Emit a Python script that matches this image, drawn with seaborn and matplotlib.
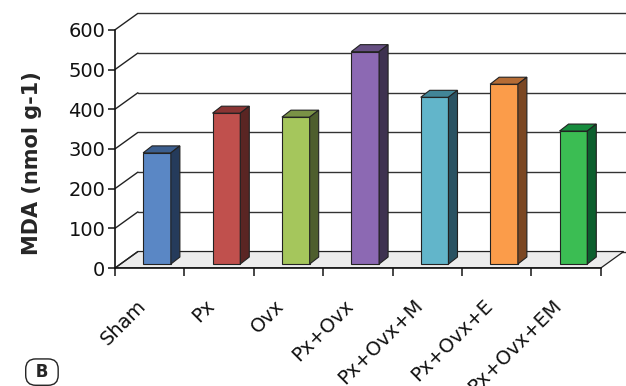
import matplotlib
matplotlib.use("Agg")
import matplotlib.pyplot as plt
from matplotlib.patches import Polygon
from matplotlib.transforms import ScaledTranslation
import seaborn as sns
import pandas as pd

groups = ["Sham", "Px", "Ovx", "Px+Ovx", "Px+Ovx+M", "Px+Ovx+E", "Px+Ovx+EM"]
mda = [280, 380, 370, 535, 420, 453, 335]
y_ticks = [0, 100, 200, 300, 400, 500, 600]

front_colors = ["#5a87c5", "#c0504d", "#a5c65c", "#8c69b3", "#62b5ca", "#fb9c4a", "#3bbd53"]
top_colors = ["#3c5f8f", "#8a3534", "#7a9246", "#664f82", "#428597", "#b56c35", "#178c3e"]
side_colors = ["#253b5b", "#5a2523", "#4e5e2d", "#3e3150", "#2a5262", "#7b4723", "#0c5f2e"]


def main():
    df = pd.DataFrame({"group": groups, "mda": mda})

    sns.set_style("white")
    fig = plt.figure(figsize=(6.26, 3.86), dpi=100)
    ax = fig.add_axes([115 / 626, 118 / 386, 511 / 626, 263 / 386])

    # 3D look: offsets of the back wall and of the bar depth (data units)
    wall_dx, wall_dy = 0.33, 41.5
    bar_dx, bar_dy = 0.13, 17.6
    shift_x, shift_y = 0.105, 10

    sns.barplot(data=df, x="group", y="mda", hue="group", palette=front_colors,
                width=0.4, legend=False, ax=ax, edgecolor="#222222", linewidth=0.8,
                saturation=1, zorder=3)

    n = len(groups)
    ax.set_xlim(-0.5, 6.863)
    ax.set_ylim(0, 662.5)

    # floor
    floor = Polygon([(-0.5, 0), (n - 0.5, 0), (n - 0.5 + wall_dx, wall_dy), (-0.5 + wall_dx, wall_dy)],
                    closed=True, facecolor="#ececec", edgecolor="#222222", linewidth=0.9, zorder=0.5)
    ax.add_patch(floor)

    # back wall gridlines + diagonals from the front axis
    for v in y_ticks:
        ax.plot([-0.5 + wall_dx, n + 1], [v + wall_dy, v + wall_dy], color="#333333", lw=1, zorder=0.4)
        ax.plot([-0.5, -0.5 + wall_dx], [v, v + wall_dy], color="#222222", lw=1, zorder=0.6)

    # move front faces back a little and add top/side faces
    for i, p in enumerate(ax.patches[:n]):
        p.set_x(p.get_x() + shift_x)
        p.set_y(p.get_y() + shift_y)
        x0 = p.get_x()
        x1 = x0 + p.get_width()
        base = p.get_y()
        top = base + p.get_height()
        ax.add_patch(Polygon([(x0, top), (x1, top), (x1 + bar_dx, top + bar_dy), (x0 + bar_dx, top + bar_dy)],
                             closed=True, facecolor=top_colors[i], edgecolor="#222222", lw=0.8, zorder=3))
        ax.add_patch(Polygon([(x1, base), (x1 + bar_dx, base + bar_dy), (x1 + bar_dx, top + bar_dy), (x1, top)],
                             closed=True, facecolor=side_colors[i], edgecolor="#222222", lw=0.8, zorder=3))

    sns.despine(ax=ax, top=True, right=True)
    ax.spines["left"].set_bounds(0, 600)
    ax.spines["bottom"].set_bounds(-0.5, n - 0.5)
    for s in ["left", "bottom"]:
        ax.spines[s].set_color("#111111")
        ax.spines[s].set_linewidth(1.2)

    ax.set_yticks(y_ticks)
    ax.set_yticklabels([str(v) for v in y_ticks], fontsize=14, color="#111111")
    ax.tick_params(axis="y", direction="out", length=5, width=1.2, pad=2, left=True)

    ax.set_xticks(range(n))
    ax.set_xticklabels(groups, rotation=45, ha="right", va="top", rotation_mode="anchor",
                       fontsize=14, color="#111111")
    ax.set_xticks([i - 0.5 for i in range(n + 1)], minor=True)
    ax.tick_params(axis="x", which="major", length=0, pad=20)
    ax.tick_params(axis="x", which="minor", direction="out", length=6, width=1.2, bottom=True)
    offset = ScaledTranslation(-10 / 72, 0, fig.dpi_scale_trans)
    for lab in ax.get_xticklabels():
        lab.set_transform(lab.get_transform() + offset)

    ax.set_xlabel("")
    ax.set_ylabel("MDA (nmol g-1)", fontsize=15, fontweight="bold")
    ax.yaxis.set_label_coords(-0.143, 0.40)
    ax.grid(False)

    fig.text(0.067, 0.036, " B ", fontsize=12, fontweight="bold", ha="center", va="center",
             bbox=dict(boxstyle="round,pad=0.25,rounding_size=0.6", facecolor="white",
                       edgecolor="#222222", lw=1))

    fig.savefig("out.png", dpi=100)


if __name__ == "__main__":
    main()
